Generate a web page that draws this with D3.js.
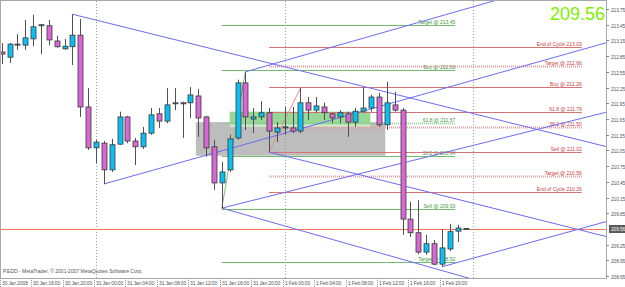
<!DOCTYPE html>
<html>
<head>
<meta charset="utf-8">
<script src="https://cdn.jsdelivr.net/npm/d3@7"></script>
<style>
  body { margin: 0; background: #fff; }
  svg { display: block; }
  text { font-family: "Liberation Sans", Arial, sans-serif; }
</style>
</head>
<body>
<svg width="625" height="287"></svg>
<script>
// H1 bars from 30 Jan 12:00 to 1 Feb 23:00 — [open, high, low, close]
var bars = [
  [212.93, 213.10, 212.70, 212.89], [212.83, 213.10, 212.72, 213.08], [213.08, 213.27, 212.97, 213.06],
  [213.06, 213.54, 212.97, 213.20], [213.18, 213.64, 213.04, 213.41], [213.43, 213.46, 212.89, 213.45],
  [213.43, 213.54, 213.06, 213.16], [213.14, 213.24, 213.01, 213.03], [212.99, 213.18, 212.97, 213.04],
  [213.03, 213.65, 212.68, 213.25], [213.25, 213.56, 211.69, 211.88], [211.88, 212.24, 211.06, 211.10],
  [211.10, 211.25, 210.81, 211.21], [211.19, 211.23, 210.41, 210.68], [210.68, 211.27, 210.64, 211.16],
  [211.17, 211.79, 211.16, 211.69], [211.69, 211.71, 211.19, 211.23], [211.23, 211.29, 210.77, 211.12],
  [211.12, 211.50, 211.08, 211.38], [211.38, 211.86, 211.35, 211.73], [211.75, 211.86, 211.48, 211.61],
  [211.61, 212.24, 211.57, 211.92], [211.94, 212.24, 211.82, 211.96], [211.96, 211.98, 211.29, 211.94],
  [211.96, 212.26, 211.67, 212.11], [212.09, 212.22, 211.31, 211.67], [211.69, 211.71, 210.93, 211.10],
  [211.12, 211.25, 210.30, 210.43], [210.43, 210.83, 209.95, 210.64], [210.68, 211.35, 210.64, 211.27],
  [211.29, 212.40, 211.25, 212.34], [212.34, 212.55, 211.44, 211.69], [211.65, 211.86, 211.38, 211.69],
  [211.69, 211.99, 211.63, 211.77], [211.77, 211.86, 211.02, 211.42], [211.40, 211.59, 211.21, 211.48],
  [211.48, 211.88, 211.35, 211.50], [211.48, 211.88, 211.38, 211.42], [211.42, 212.24, 211.38, 211.96],
  [211.96, 212.07, 211.63, 211.82], [211.82, 212.07, 211.77, 211.90], [211.88, 211.96, 211.63, 211.77],
  [211.75, 211.77, 211.57, 211.67], [211.69, 211.82, 211.57, 211.77], [211.75, 211.79, 211.31, 211.59],
  [211.59, 211.86, 211.50, 211.80], [211.80, 212.26, 211.77, 211.86], [211.86, 212.11, 211.79, 212.07],
  [212.07, 212.15, 211.50, 211.54], [211.54, 212.36, 211.44, 211.96], [211.92, 212.17, 211.79, 211.82],
  [211.82, 211.86, 209.44, 209.74], [209.74, 210.07, 209.40, 209.48], [209.48, 210.10, 209.07, 209.11],
  [209.11, 209.44, 209.06, 209.27], [209.27, 209.34, 208.86, 208.88], [208.88, 209.55, 208.83, 209.19],
  [209.17, 209.65, 209.13, 209.50], [209.51, 209.63, 209.30, 209.57], [209.56, 209.57, 209.55, 209.56]
];

var priceTicks = [213.75, 213.45, 213.15, 212.85, 212.55, 212.25, 211.95, 211.65, 211.35,
                  211.05, 210.75, 210.45, 210.15, 209.85, 209.25, 208.95, 208.65];

var timeLabelBars = [0, 4, 8, 12, 16, 20, 24, 28, 32, 36, 40, 44, 48, 52, 56];
var timeLabels = ["30 Jan 2008", "30 Jan 16:00", "30 Jan 20:00", "31 Jan 00:00", "31 Jan 04:00",
                  "31 Jan 08:00", "31 Jan 12:00", "31 Jan 16:00", "31 Jan 20:00", "1 Feb 00:00",
                  "1 Feb 04:00", "1 Feb 08:00", "1 Feb 12:00", "1 Feb 16:00", "1 Feb 20:00"];
var daySeparators = [12, 36, 60];

// trend lines: [bar1, price1, bar2, price2] (extended to the right)
var trendLines = [
  [9, 213.65, 59, 211.79],
  [28, 209.95, 59, 208.63],
  [34, 211.02, 59, 210.08],
  [31, 212.55, 59, 213.75],
  [13, 210.41, 59, 212.35],
  [28, 209.95, 59, 211.11],
  [56, 208.83, 80, 209.82]
];

// fibo swing lines
var greenSwing = [28, 209.95, 31, 212.55];
var redSwing = [34, 211.02, 38, 212.24];

var greenLevels = [213.45, 212.58, 211.57, 210.94, 209.93, 208.92];
var greenNames = ["Target @  213.45", "Buy @  212.58", "61.8 @ 211.57", "38.2 @ 210.94", "Sell @  209.93", "Target @  208.92"];
var greenDotted = [false, false, true, false, false, false];
var greenSpan = [28, 57.7];

var redLevels = [213.03, 212.66, 212.26, 211.79, 211.50, 211.02, 210.56, 210.26];
var redNames = ["End of Cycle  213.03", "Target @  212.66", "Buy @  212.26", "61.8 @ 211.79",
                "38.2 @ 211.50", "Sell @  211.02", "Target @  210.56", "End of Cycle  210.26"];
var redDotted = [false, true, false, false, true, false, true, false];
var redSpan = [34, 73.8];

// rectangles: [bar1, bar2, priceTop, priceBottom]
var grayBox = [24.7, 48.8, 211.59, 210.95];
var greenBox = [29, 46.9, 211.79, 211.55];

var lastPrice = 209.56;

var svg = d3.select("svg");
var plotRight = 606, plotBottom = 278;

var x = d3.scaleLinear().domain([0, 59]).range([1.7, 465.5]);
var y = d3.scaleLinear().domain([208.65, 213.75]).range([276.2, 9]);

svg.append("defs").append("clipPath").attr("id", "plot")
  .append("rect").attr("x", 1).attr("y", 1).attr("width", plotRight - 1).attr("height", plotBottom - 1);

var plot = svg.append("g").attr("clip-path", "url(#plot)");

// background boxes
plot.append("rect")
  .attr("x", x(grayBox[0])).attr("width", x(grayBox[1]) - x(grayBox[0]))
  .attr("y", y(grayBox[2])).attr("height", y(grayBox[3]) - y(grayBox[2]))
  .attr("fill", "#bdbdbd");
plot.append("rect")
  .attr("x", x(greenBox[0])).attr("width", x(greenBox[1]) - x(greenBox[0]))
  .attr("y", y(greenBox[2])).attr("height", y(greenBox[3]) - y(greenBox[2]))
  .attr("fill", "#97d897");
plot.append("rect")
  .attr("x", x(greenBox[0])).attr("width", x(greenBox[1]) - x(greenBox[0]))
  .attr("y", y(greenBox[3])).attr("height", 2.5)
  .attr("fill", "#cdeecd");

// day separators
plot.selectAll(".sep").data(daySeparators).enter().append("line")
  .attr("x1", function(d) { return Math.round(x(d)) + 0.5; })
  .attr("x2", function(d) { return Math.round(x(d)) + 0.5; })
  .attr("y1", 1).attr("y2", plotBottom)
  .attr("stroke", "#9a9aa8").attr("stroke-dasharray", "1,2");

// current price line
plot.append("line")
  .attr("x1", 1).attr("x2", plotRight)
  .attr("y1", Math.round(y(lastPrice)) + 0.5).attr("y2", Math.round(y(lastPrice)) + 0.5)
  .attr("stroke", "#f27a52");

// fibo levels
function drawLevels(levels, names, dotted, span, lineColor, dotColor, textColor) {
  var g = plot.append("g");
  levels.forEach(function(p, i) {
    var yy = Math.round(y(p)) + 0.5;
    g.append("line")
      .attr("x1", x(span[0])).attr("x2", x(span[1]))
      .attr("y1", yy).attr("y2", yy)
      .attr("stroke", dotted[i] ? dotColor : lineColor)
      .attr("stroke-width", dotted[i] ? 2 : 1)
      .attr("stroke-dasharray", dotted[i] ? "1,1" : null);
    g.append("text")
      .attr("x", x(span[1])).attr("y", yy - 1.5)
      .attr("text-anchor", "end")
      .attr("font-size", 5)
      .attr("fill", textColor)
      .text(names[i]);
  });
}
drawLevels(greenLevels, greenNames, greenDotted, greenSpan, "#72bc72", "#8ccc8c", "#3c9a3c");
drawLevels(redLevels, redNames, redDotted, redSpan, "#d47474", "#eb9c9c", "#c83c3c");

// swing lines
plot.append("line")
  .attr("x1", x(greenSwing[0])).attr("y1", y(greenSwing[1]))
  .attr("x2", x(greenSwing[2])).attr("y2", y(greenSwing[3]))
  .attr("stroke", "#7cc07c");
plot.append("line")
  .attr("x1", x(redSwing[0])).attr("y1", y(redSwing[1]))
  .attr("x2", x(redSwing[2])).attr("y2", y(redSwing[3]))
  .attr("stroke", "#e08c8c");

// trend lines, extended to the price axis
var xEnd = x.invert(plotRight);
plot.selectAll(".trend").data(trendLines).enter().append("line")
  .attr("x1", function(d) { return x(d[0]); })
  .attr("y1", function(d) { return y(d[1]); })
  .attr("x2", x(xEnd))
  .attr("y2", function(d) { return y(d[1] + (d[3] - d[1]) * (xEnd - d[0]) / (d[2] - d[0])); })
  .attr("stroke", "#6b6bf5").attr("stroke-width", 1);

// candles
var candle = plot.selectAll(".bar").data(bars).enter().append("g");
candle.append("line")
  .attr("x1", function(d, i) { return Math.round(x(i)) + 0.5; })
  .attr("x2", function(d, i) { return Math.round(x(i)) + 0.5; })
  .attr("y1", function(d) { return y(d[1]); })
  .attr("y2", function(d) { return y(d[2]); })
  .attr("stroke", "#505050");
candle.append("rect")
  .attr("x", function(d, i) { return Math.round(x(i)) - 2; })
  .attr("width", 5)
  .attr("y", function(d) { return y(Math.max(d[0], d[3])); })
  .attr("height", function(d) { return Math.max(1, Math.abs(y(d[0]) - y(d[3]))); })
  .attr("fill", function(d) { return d[3] >= d[0] ? "#0cbff2" : "#d868d4"; })
  .attr("stroke", "#3a3a3a").attr("stroke-width", 0.8);

// frame
svg.append("rect").attr("x", 0.5).attr("y", 0.5).attr("width", plotRight).attr("height", plotBottom)
  .attr("fill", "none").attr("stroke", "#a8a8a8");

// price axis
var axisG = svg.append("g");
priceTicks.forEach(function(p) {
  var yy = Math.round(y(p)) + 0.5;
  axisG.append("line").attr("x1", plotRight).attr("x2", plotRight + 3).attr("y1", yy).attr("y2", yy).attr("stroke", "#888");
  axisG.append("text").attr("x", plotRight + 5).attr("y", yy + 2)
    .attr("font-size", 4.8).attr("letter-spacing", -0.1).attr("fill", "#555").text(p.toFixed(2));
});
var ly = Math.round(y(lastPrice));
axisG.append("rect").attr("x", plotRight + 3).attr("y", ly - 4).attr("width", 17).attr("height", 8).attr("fill", "#5a5a5a");
axisG.append("text").attr("x", plotRight + 5).attr("y", ly + 2)
  .attr("font-size", 4.8).attr("letter-spacing", -0.1).attr("fill", "#fff").text(lastPrice.toFixed(2));

// time axis
timeLabelBars.forEach(function(b, i) {
  var xx = Math.round(x(b)) - 1.5;
  svg.append("line").attr("x1", xx).attr("x2", xx).attr("y1", plotBottom).attr("y2", 287)
    .attr("stroke", "#999").attr("stroke-dasharray", "1,1");
  svg.append("text").attr("x", xx + 1.5).attr("y", 285)
    .attr("font-size", 5).attr("letter-spacing", -0.15).attr("fill", "#555").text(timeLabels[i]);
});

svg.append("text").attr("x", 3).attr("y", 273)
  .attr("font-size", 5).attr("fill", "#555")
  .text("P.EDD - MetaTrader, \u00a9 2001-2007 MetaQuotes Software Corp.");

// big last price
svg.append("text").attr("x", 605).attr("y", 20)
  .attr("text-anchor", "end").attr("font-size", 18).attr("fill", "#7ff000")
  .text(lastPrice.toFixed(2));
</script>
</body>
</html>
